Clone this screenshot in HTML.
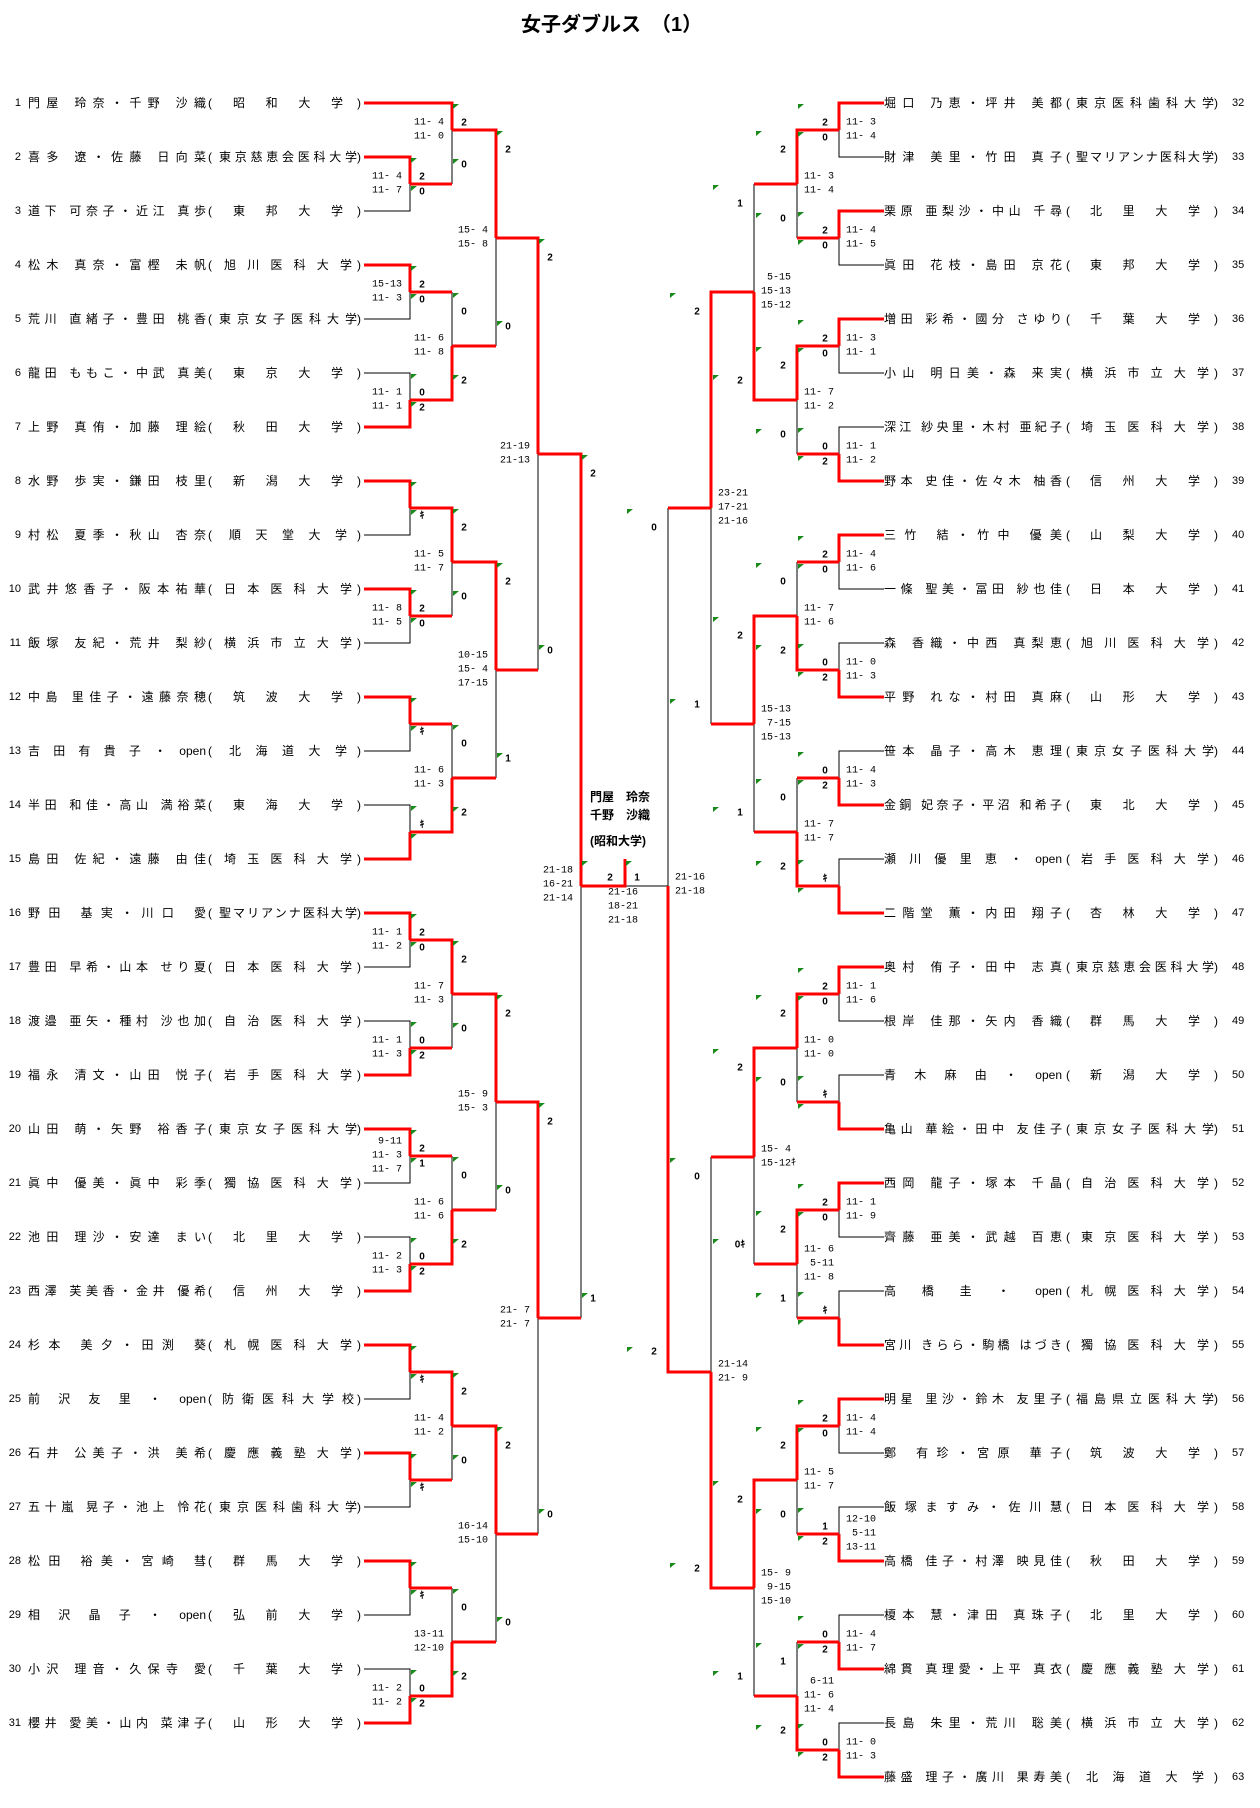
<!DOCTYPE html>
<html><head><meta charset="utf-8">
<style>
html,body{margin:0;padding:0;background:#fff}
body{width:1260px;height:1808px;position:relative;overflow:hidden;font-family:"Liberation Sans","Noto Sans CJK JP",sans-serif;color:#000}
.t{position:absolute;left:521px;top:8px;font-size:20px;font-weight:bold;white-space:nowrap;font-family:"Liberation Sans","Noto Sans CJK JP",sans-serif}
.r{position:absolute;left:0;width:1260px;height:16px;line-height:16px;font-size:12px;white-space:nowrap}
.r span{position:absolute;top:0}
.n{width:18px;text-align:right;font-size:11px}
.p,.u{text-align:justify;text-align-last:justify;box-sizing:border-box}
.p{width:178px}
.u{width:138px}
.l .n{left:3px}.l .p{left:28px}.l .o{left:208px}.l .u{left:219px}.l .c{left:357px}
.g .p{left:884px}.g .o{left:1066px}.g .u{left:1076px}.g .c{left:1214px}.g .n{left:1232px;text-align:left}
.a{padding:0 14px}.b{padding:0 10px}.d{padding:0 5px}.e{padding:0 3px}
.w{position:absolute;left:590px;font-size:12px;font-weight:bold;white-space:nowrap}
svg{position:absolute;left:0;top:0}
.s text{font-family:"Liberation Mono",monospace;font-size:10px;white-space:pre;dominant-baseline:central}
.k text{font-family:"Liberation Sans","Noto Sans CJK JP",sans-serif;font-size:10px;font-weight:bold;dominant-baseline:central;text-anchor:middle}
</style></head><body>
<div class="t">女子ダブルス　（1）</div>

<div class="r l" style="top:95px"><span class="n">1</span><span class="p">門屋 玲奈・千野 沙織</span><span class="o">(</span><span class="u a">昭和大学</span><span class="c">)</span></div>
<div class="r l" style="top:149px"><span class="n">2</span><span class="p">喜多 遼・佐藤 日向菜</span><span class="o">(</span><span class="u">東京慈恵会医科大学</span><span class="c">)</span></div>
<div class="r l" style="top:203px"><span class="n">3</span><span class="p">道下 可奈子・近江 真歩</span><span class="o">(</span><span class="u a">東邦大学</span><span class="c">)</span></div>
<div class="r l" style="top:257px"><span class="n">4</span><span class="p">松木 真奈・富樫 未帆</span><span class="o">(</span><span class="u d">旭川医科大学</span><span class="c">)</span></div>
<div class="r l" style="top:311px"><span class="n">5</span><span class="p">荒川 直緒子・豊田 桃香</span><span class="o">(</span><span class="u">東京女子医科大学</span><span class="c">)</span></div>
<div class="r l" style="top:365px"><span class="n">6</span><span class="p">龍田 ももこ・中武 真美</span><span class="o">(</span><span class="u a">東京大学</span><span class="c">)</span></div>
<div class="r l" style="top:419px"><span class="n">7</span><span class="p">上野 真侑・加藤 理絵</span><span class="o">(</span><span class="u a">秋田大学</span><span class="c">)</span></div>
<div class="r l" style="top:473px"><span class="n">8</span><span class="p">水野 歩実・鎌田 枝里</span><span class="o">(</span><span class="u a">新潟大学</span><span class="c">)</span></div>
<div class="r l" style="top:527px"><span class="n">9</span><span class="p">村松 夏季・秋山 杏奈</span><span class="o">(</span><span class="u b">順天堂大学</span><span class="c">)</span></div>
<div class="r l" style="top:581px"><span class="n">10</span><span class="p">武井悠香子・阪本祐華</span><span class="o">(</span><span class="u d">日本医科大学</span><span class="c">)</span></div>
<div class="r l" style="top:635px"><span class="n">11</span><span class="p">飯塚 友紀・荒井 梨紗</span><span class="o">(</span><span class="u d">横浜市立大学</span><span class="c">)</span></div>
<div class="r l" style="top:689px"><span class="n">12</span><span class="p">中島 里佳子・遠藤奈穂</span><span class="o">(</span><span class="u a">筑波大学</span><span class="c">)</span></div>
<div class="r l" style="top:743px"><span class="n">13</span><span class="p">吉 田 有 貴 子 ・ open</span><span class="o">(</span><span class="u b">北海道大学</span><span class="c">)</span></div>
<div class="r l" style="top:797px"><span class="n">14</span><span class="p">半田 和佳・高山 満裕菜</span><span class="o">(</span><span class="u a">東海大学</span><span class="c">)</span></div>
<div class="r l" style="top:851px"><span class="n">15</span><span class="p">島田 佐紀・遠藤 由佳</span><span class="o">(</span><span class="u d">埼玉医科大学</span><span class="c">)</span></div>
<div class="r l" style="top:905px"><span class="n">16</span><span class="p">野田 基実・川口 愛</span><span class="o">(</span><span class="u">聖マリアンナ医科大学</span><span class="c">)</span></div>
<div class="r l" style="top:959px"><span class="n">17</span><span class="p">豊田 早希・山本 せり夏</span><span class="o">(</span><span class="u d">日本医科大学</span><span class="c">)</span></div>
<div class="r l" style="top:1013px"><span class="n">18</span><span class="p">渡邉 亜矢・種村 沙也加</span><span class="o">(</span><span class="u d">自治医科大学</span><span class="c">)</span></div>
<div class="r l" style="top:1067px"><span class="n">19</span><span class="p">福永 清文・山田 悦子</span><span class="o">(</span><span class="u d">岩手医科大学</span><span class="c">)</span></div>
<div class="r l" style="top:1121px"><span class="n">20</span><span class="p">山田 萌・矢野 裕香子</span><span class="o">(</span><span class="u">東京女子医科大学</span><span class="c">)</span></div>
<div class="r l" style="top:1175px"><span class="n">21</span><span class="p">眞中 優美・眞中 彩季</span><span class="o">(</span><span class="u d">獨協医科大学</span><span class="c">)</span></div>
<div class="r l" style="top:1229px"><span class="n">22</span><span class="p">池田 理沙・安達 まい</span><span class="o">(</span><span class="u a">北里大学</span><span class="c">)</span></div>
<div class="r l" style="top:1283px"><span class="n">23</span><span class="p">西澤 芙美香・金井 優希</span><span class="o">(</span><span class="u a">信州大学</span><span class="c">)</span></div>
<div class="r l" style="top:1337px"><span class="n">24</span><span class="p">杉本 美夕・田渕 葵</span><span class="o">(</span><span class="u d">札幌医科大学</span><span class="c">)</span></div>
<div class="r l" style="top:1391px"><span class="n">25</span><span class="p">前 沢 友 里 ・ open</span><span class="o">(</span><span class="u e">防衛医科大学校</span><span class="c">)</span></div>
<div class="r l" style="top:1445px"><span class="n">26</span><span class="p">石井 公美子・洪 美希</span><span class="o">(</span><span class="u d">慶應義塾大学</span><span class="c">)</span></div>
<div class="r l" style="top:1499px"><span class="n">27</span><span class="p">五十嵐 晃子・池上 怜花</span><span class="o">(</span><span class="u">東京医科歯科大学</span><span class="c">)</span></div>
<div class="r l" style="top:1553px"><span class="n">28</span><span class="p">松田 裕美・宮崎 彗</span><span class="o">(</span><span class="u a">群馬大学</span><span class="c">)</span></div>
<div class="r l" style="top:1607px"><span class="n">29</span><span class="p">相 沢 晶 子 ・ open</span><span class="o">(</span><span class="u a">弘前大学</span><span class="c">)</span></div>
<div class="r l" style="top:1661px"><span class="n">30</span><span class="p">小沢 理音・久保寺 愛</span><span class="o">(</span><span class="u a">千葉大学</span><span class="c">)</span></div>
<div class="r l" style="top:1715px"><span class="n">31</span><span class="p">櫻井 愛美・山内 菜津子</span><span class="o">(</span><span class="u a">山形大学</span><span class="c">)</span></div>

<div class="r g" style="top:95px"><span class="p">堀口 乃恵・坪井 美都</span><span class="o">(</span><span class="u">東京医科歯科大学</span><span class="c">)</span><span class="n">32</span></div>
<div class="r g" style="top:149px"><span class="p">財津 美里・竹田 真子</span><span class="o">(</span><span class="u">聖マリアンナ医科大学</span><span class="c">)</span><span class="n">33</span></div>
<div class="r g" style="top:203px"><span class="p">栗原 亜梨沙・中山 千尋</span><span class="o">(</span><span class="u a">北里大学</span><span class="c">)</span><span class="n">34</span></div>
<div class="r g" style="top:257px"><span class="p">眞田 花枝・島田 京花</span><span class="o">(</span><span class="u a">東邦大学</span><span class="c">)</span><span class="n">35</span></div>
<div class="r g" style="top:311px"><span class="p">増田 彩希・國分 さゆり</span><span class="o">(</span><span class="u a">千葉大学</span><span class="c">)</span><span class="n">36</span></div>
<div class="r g" style="top:365px"><span class="p">小山 明日美・森 来実</span><span class="o">(</span><span class="u d">横浜市立大学</span><span class="c">)</span><span class="n">37</span></div>
<div class="r g" style="top:419px"><span class="p">深江 紗央里・木村 亜紀子</span><span class="o">(</span><span class="u d">埼玉医科大学</span><span class="c">)</span><span class="n">38</span></div>
<div class="r g" style="top:473px"><span class="p">野本 史佳・佐々木 柚香</span><span class="o">(</span><span class="u a">信州大学</span><span class="c">)</span><span class="n">39</span></div>
<div class="r g" style="top:527px"><span class="p">三竹 結・竹中 優美</span><span class="o">(</span><span class="u a">山梨大学</span><span class="c">)</span><span class="n">40</span></div>
<div class="r g" style="top:581px"><span class="p">一條 聖美・冨田 紗也佳</span><span class="o">(</span><span class="u a">日本大学</span><span class="c">)</span><span class="n">41</span></div>
<div class="r g" style="top:635px"><span class="p">森 香織・中西 真梨恵</span><span class="o">(</span><span class="u d">旭川医科大学</span><span class="c">)</span><span class="n">42</span></div>
<div class="r g" style="top:689px"><span class="p">平野 れな・村田 真麻</span><span class="o">(</span><span class="u a">山形大学</span><span class="c">)</span><span class="n">43</span></div>
<div class="r g" style="top:743px"><span class="p">笹本 晶子・高木 恵理</span><span class="o">(</span><span class="u">東京女子医科大学</span><span class="c">)</span><span class="n">44</span></div>
<div class="r g" style="top:797px"><span class="p">金銅 妃奈子・平沼 和希子</span><span class="o">(</span><span class="u a">東北大学</span><span class="c">)</span><span class="n">45</span></div>
<div class="r g" style="top:851px"><span class="p">瀬 川 優 里 恵 ・ open</span><span class="o">(</span><span class="u d">岩手医科大学</span><span class="c">)</span><span class="n">46</span></div>
<div class="r g" style="top:905px"><span class="p">二階堂 薫・内田 翔子</span><span class="o">(</span><span class="u a">杏林大学</span><span class="c">)</span><span class="n">47</span></div>
<div class="r g" style="top:959px"><span class="p">奥村 侑子・田中 志真</span><span class="o">(</span><span class="u">東京慈恵会医科大学</span><span class="c">)</span><span class="n">48</span></div>
<div class="r g" style="top:1013px"><span class="p">根岸 佳那・矢内 香織</span><span class="o">(</span><span class="u a">群馬大学</span><span class="c">)</span><span class="n">49</span></div>
<div class="r g" style="top:1067px"><span class="p">青 木 麻 由 ・ open</span><span class="o">(</span><span class="u a">新潟大学</span><span class="c">)</span><span class="n">50</span></div>
<div class="r g" style="top:1121px"><span class="p">亀山 華絵・田中 友佳子</span><span class="o">(</span><span class="u">東京女子医科大学</span><span class="c">)</span><span class="n">51</span></div>
<div class="r g" style="top:1175px"><span class="p">西岡 龍子・塚本 千晶</span><span class="o">(</span><span class="u d">自治医科大学</span><span class="c">)</span><span class="n">52</span></div>
<div class="r g" style="top:1229px"><span class="p">齊藤 亜美・武越 百恵</span><span class="o">(</span><span class="u d">東京医科大学</span><span class="c">)</span><span class="n">53</span></div>
<div class="r g" style="top:1283px"><span class="p">高 橋 圭 ・ open</span><span class="o">(</span><span class="u d">札幌医科大学</span><span class="c">)</span><span class="n">54</span></div>
<div class="r g" style="top:1337px"><span class="p">宮川 きらら・駒橋 はづき</span><span class="o">(</span><span class="u d">獨協医科大学</span><span class="c">)</span><span class="n">55</span></div>
<div class="r g" style="top:1391px"><span class="p">明星 里沙・鈴木 友里子</span><span class="o">(</span><span class="u">福島県立医科大学</span><span class="c">)</span><span class="n">56</span></div>
<div class="r g" style="top:1445px"><span class="p">鄭 有珍・宮原 華子</span><span class="o">(</span><span class="u a">筑波大学</span><span class="c">)</span><span class="n">57</span></div>
<div class="r g" style="top:1499px"><span class="p">飯塚ますみ・佐川慧</span><span class="o">(</span><span class="u d">日本医科大学</span><span class="c">)</span><span class="n">58</span></div>
<div class="r g" style="top:1553px"><span class="p">高橋 佳子・村澤 映見佳</span><span class="o">(</span><span class="u a">秋田大学</span><span class="c">)</span><span class="n">59</span></div>
<div class="r g" style="top:1607px"><span class="p">榎本 慧・津田 真珠子</span><span class="o">(</span><span class="u a">北里大学</span><span class="c">)</span><span class="n">60</span></div>
<div class="r g" style="top:1661px"><span class="p">綿貫 真理愛・上平 真衣</span><span class="o">(</span><span class="u d">慶應義塾大学</span><span class="c">)</span><span class="n">61</span></div>
<div class="r g" style="top:1715px"><span class="p">長島 朱里・荒川 聡美</span><span class="o">(</span><span class="u d">横浜市立大学</span><span class="c">)</span><span class="n">62</span></div>
<div class="r g" style="top:1769px"><span class="p">藤盛 理子・廣川 果寿美</span><span class="o">(</span><span class="u b">北海道大学</span><span class="c">)</span><span class="n">63</span></div>

<div class="w" style="top:788px">門屋　玲奈</div>
<div class="w" style="top:806px">千野　沙織</div>
<div class="w" style="top:832px">(昭和大学)</div>

<svg width="1260" height="1808" viewBox="0 0 1260 1808">
<path fill="none" stroke="#000" stroke-width="1" shape-rendering="crispEdges" d="
M364 211H410V184 M452 130V184 M364 319H410V292 M364 373H410V400 M452 292V346 M496 238V346
M364 535H410V508 M364 643H410V616 M452 562V616 M364 751H410V724 M364 805H410V832 M452 724V778 M496 670V778 M538 454V670
M364 967H410V940 M364 1021H410V1048 M452 994V1048 M364 1183H410V1156 M364 1237H410V1264 M452 1156V1210 M496 1102V1210
M364 1399H410V1372 M364 1507H410V1480 M452 1426V1480 M364 1615H410V1588 M364 1669H410V1696 M452 1588V1642 M496 1534V1642 M538 1318V1534 M581 886V1318
M625 886H668
M884 157H839V130 M884 265H839V238 M797 184V238 M884 373H839V346 M884 427H839V454 M797 400V454 M754 184V292
M884 589H839V562 M884 643H839V670 M797 562V616 M884 751H839V778 M884 859H839V886 M797 778V832 M754 724V832 M711 508V724
M884 1021H839V994 M884 1075H839V1102 M797 1048V1102 M884 1237H839V1210 M884 1291H839V1318 M797 1264V1318 M754 1157V1264
M884 1453H839V1426 M884 1507H839V1534 M797 1480V1534 M884 1615H839V1642 M884 1723H839V1750 M797 1642V1696 M754 1588V1696 M711 1157V1372 M668 508V886"/>
<path fill="none" stroke="#ff0000" stroke-width="3" stroke-linejoin="miter" d="
M364 157H410V184 M364 103H452V130 M410 184H452 M364 265H410V292 M364 427H410V400 M410 292H452 M410 400H452V346 M452 130H496V238 M452 346H496
M364 481H410V508 M364 589H410V616 M410 508H452V562 M410 616H452 M364 697H410V724 M364 859H410V832 M410 724H452 M410 832H452V778 M452 562H496V670 M452 778H496
M496 238H538V454 M496 670H538
M364 913H410V940 M364 1075H410V1048 M410 940H452V994 M410 1048H452 M364 1129H410V1156 M364 1291H410V1264 M410 1156H452 M410 1264H452V1210 M452 994H496V1102 M452 1210H496
M364 1345H410V1372 M364 1453H410V1480 M410 1372H452V1426 M410 1480H452 M364 1561H410V1588 M364 1723H410V1696 M410 1588H452 M410 1696H452V1642 M452 1426H496V1534 M452 1642H496
M496 1102H538V1318 M496 1534H538 M538 454H581V886 M538 1318H581 M581 886H625V859
M884 103H839V130 M884 211H839V238 M839 130H797V184 M839 238H797 M884 319H839V346 M884 481H839V454 M839 346H797V400 M839 454H797 M797 184H754 M797 400H754V292
M884 535H839V562 M884 697H839V670 M839 562H797 M839 670H797V616 M884 805H839V778 M884 913H839V886 M839 778H797 M839 886H797V832 M797 616H754V724 M797 832H754
M754 292H711V508 M754 724H711
M884 967H839V994 M884 1129H839V1102 M839 994H797V1048 M839 1102H797 M884 1183H839V1210 M884 1345H839V1318 M839 1210H797V1264 M839 1318H797 M797 1048H754V1157 M797 1264H754
M884 1399H839V1426 M884 1561H839V1534 M839 1426H797V1480 M839 1534H797 M884 1669H839V1642 M884 1777H839V1750 M839 1642H797 M839 1750H797V1696 M797 1480H754V1588 M797 1696H754
M754 1157H711 M754 1588H711V1372 M711 508H668 M711 1372H668V886"/>
<path fill="#1a8a1a" d="
M411 158h6l-6 5z M411 186h6l-6 5z M453 104h6l-6 5z M453 159h6l-6 5z M411 266h6l-6 5z M411 294h6l-6 5z M411 374h6l-6 5z M411 402h6l-6 5z M453 293h6l-6 5z M453 375h6l-6 5z M497 131h6l-6 5z M497 321h6l-6 5z
M411 482h6l-6 5z M411 510h6l-6 5z M411 590h6l-6 5z M411 618h6l-6 5z M453 509h6l-6 5z M453 591h6l-6 5z M411 698h6l-6 5z M411 726h6l-6 5z M411 806h6l-6 5z M411 834h6l-6 5z M453 725h6l-6 5z M453 807h6l-6 5z M497 563h6l-6 5z M497 753h6l-6 5z M539 239h6l-6 5z M539 645h6l-6 5z
M411 914h6l-6 5z M411 942h6l-6 5z M411 1022h6l-6 5z M411 1050h6l-6 5z M453 941h6l-6 5z M453 1023h6l-6 5z M411 1130h6l-6 5z M411 1158h6l-6 5z M411 1238h6l-6 5z M411 1266h6l-6 5z M453 1157h6l-6 5z M453 1239h6l-6 5z M497 995h6l-6 5z M497 1185h6l-6 5z
M411 1346h6l-6 5z M411 1374h6l-6 5z M411 1454h6l-6 5z M411 1482h6l-6 5z M453 1373h6l-6 5z M453 1455h6l-6 5z M411 1562h6l-6 5z M411 1590h6l-6 5z M411 1670h6l-6 5z M411 1698h6l-6 5z M453 1589h6l-6 5z M453 1671h6l-6 5z M497 1427h6l-6 5z M497 1617h6l-6 5z M539 1103h6l-6 5z M539 1509h6l-6 5z M582 455h6l-6 5z M582 1293h6l-6 5z M582 861h6l-6 5z M626 861h6l-6 5z
M798 104h6l-6 5z M798 132h6l-6 5z M798 212h6l-6 5z M798 240h6l-6 5z M756 131h6l-6 5z M756 213h6l-6 5z M798 320h6l-6 5z M798 348h6l-6 5z M798 428h6l-6 5z M798 456h6l-6 5z M756 347h6l-6 5z M756 429h6l-6 5z M713 185h6l-6 5z M713 375h6l-6 5z
M798 536h6l-6 5z M798 564h6l-6 5z M798 644h6l-6 5z M798 672h6l-6 5z M756 563h6l-6 5z M756 645h6l-6 5z M798 752h6l-6 5z M798 780h6l-6 5z M798 860h6l-6 5z M798 888h6l-6 5z M756 779h6l-6 5z M756 861h6l-6 5z M713 617h6l-6 5z M713 807h6l-6 5z M670 293h6l-6 5z M670 699h6l-6 5z
M798 968h6l-6 5z M798 996h6l-6 5z M798 1076h6l-6 5z M798 1104h6l-6 5z M756 995h6l-6 5z M756 1077h6l-6 5z M798 1184h6l-6 5z M798 1212h6l-6 5z M798 1292h6l-6 5z M798 1320h6l-6 5z M756 1211h6l-6 5z M756 1293h6l-6 5z M713 1049h6l-6 5z M713 1239h6l-6 5z
M798 1400h6l-6 5z M798 1428h6l-6 5z M798 1508h6l-6 5z M798 1536h6l-6 5z M756 1427h6l-6 5z M756 1509h6l-6 5z M798 1616h6l-6 5z M798 1644h6l-6 5z M798 1724h6l-6 5z M798 1752h6l-6 5z M756 1643h6l-6 5z M756 1725h6l-6 5z M713 1481h6l-6 5z M713 1671h6l-6 5z M670 1158h6l-6 5z M670 1563h6l-6 5z M627 509h6l-6 5z M627 1347h6l-6 5z"/>
<g class="k">
<text x="422" y="177">2</text><text x="422" y="192">0</text>
<text x="464" y="123">2</text><text x="464" y="165">0</text>
<text x="422" y="285">2</text><text x="422" y="300">0</text>
<text x="422" y="393">0</text><text x="422" y="408">2</text>
<text x="464" y="312">0</text><text x="464" y="381">2</text>
<text x="508" y="150">2</text><text x="508" y="327">0</text>
<text x="422" y="516">ｷ</text>
<text x="422" y="609">2</text><text x="422" y="624">0</text>
<text x="464" y="528">2</text><text x="464" y="597">0</text>
<text x="422" y="732">ｷ</text>
<text x="422" y="825">ｷ</text>
<text x="464" y="744">0</text><text x="464" y="813">2</text>
<text x="508" y="582">2</text><text x="508" y="759">1</text>
<text x="550" y="258">2</text><text x="550" y="651">0</text>
<text x="422" y="933">2</text><text x="422" y="948">0</text>
<text x="422" y="1041">0</text><text x="422" y="1056">2</text>
<text x="464" y="960">2</text><text x="464" y="1029">0</text>
<text x="422" y="1149">2</text><text x="422" y="1164">1</text>
<text x="422" y="1257">0</text><text x="422" y="1272">2</text>
<text x="464" y="1176">0</text><text x="464" y="1245">2</text>
<text x="508" y="1014">2</text><text x="508" y="1191">0</text>
<text x="422" y="1380">ｷ</text>
<text x="422" y="1488">ｷ</text>
<text x="464" y="1392">2</text><text x="464" y="1461">0</text>
<text x="422" y="1596">ｷ</text>
<text x="422" y="1689">0</text><text x="422" y="1704">2</text>
<text x="464" y="1608">0</text><text x="464" y="1677">2</text>
<text x="508" y="1446">2</text><text x="508" y="1623">0</text>
<text x="550" y="1122">2</text><text x="550" y="1515">0</text>
<text x="593" y="474">2</text><text x="593" y="1299">1</text>
<text x="610" y="878">2</text><text x="637" y="878">1</text>
<text x="825" y="123">2</text><text x="825" y="138">0</text>
<text x="825" y="231">2</text><text x="825" y="246">0</text>
<text x="783" y="150">2</text><text x="783" y="219">0</text>
<text x="825" y="339">2</text><text x="825" y="354">0</text>
<text x="825" y="447">0</text><text x="825" y="462">2</text>
<text x="783" y="366">2</text><text x="783" y="435">0</text>
<text x="740" y="204">1</text><text x="740" y="381">2</text>
<text x="825" y="555">2</text><text x="825" y="570">0</text>
<text x="825" y="663">0</text><text x="825" y="678">2</text>
<text x="783" y="582">0</text><text x="783" y="651">2</text>
<text x="825" y="771">0</text><text x="825" y="786">2</text>
<text x="825" y="879">ｷ</text>
<text x="783" y="798">0</text><text x="783" y="867">2</text>
<text x="740" y="636">2</text><text x="740" y="813">1</text>
<text x="697" y="312">2</text><text x="697" y="705">1</text>
<text x="825" y="987">2</text><text x="825" y="1002">0</text>
<text x="825" y="1095">ｷ</text>
<text x="783" y="1014">2</text><text x="783" y="1083">0</text>
<text x="825" y="1203">2</text><text x="825" y="1218">0</text>
<text x="825" y="1311">ｷ</text>
<text x="783" y="1230">2</text><text x="783" y="1299">1</text>
<text x="740" y="1068">2</text><text x="740" y="1245">0ｷ</text>
<text x="825" y="1419">2</text><text x="825" y="1434">0</text>
<text x="825" y="1527">1</text><text x="825" y="1542">2</text>
<text x="783" y="1446">2</text><text x="783" y="1515">0</text>
<text x="825" y="1635">0</text><text x="825" y="1650">2</text>
<text x="825" y="1743">0</text><text x="825" y="1758">2</text>
<text x="783" y="1662">1</text><text x="783" y="1731">2</text>
<text x="740" y="1500">2</text><text x="740" y="1677">1</text>
<text x="697" y="1177">0</text><text x="697" y="1569">2</text>
<text x="654" y="528">0</text><text x="654" y="1352">2</text>
</g>
<g class="s" text-anchor="end">
<text x="402" y="177">11- 4</text><text x="402" y="191">11- 7</text>
<text x="444" y="123">11- 4</text><text x="444" y="137">11- 0</text>
<text x="402" y="285">15-13</text><text x="402" y="299">11- 3</text>
<text x="402" y="393">11- 1</text><text x="402" y="407">11- 1</text>
<text x="444" y="339">11- 6</text><text x="444" y="353">11- 8</text>
<text x="488" y="231">15- 4</text><text x="488" y="245">15- 8</text>
<text x="402" y="609">11- 8</text><text x="402" y="623">11- 5</text>
<text x="444" y="555">11- 5</text><text x="444" y="569">11- 7</text>
<text x="444" y="771">11- 6</text><text x="444" y="785">11- 3</text>
<text x="488" y="656">10-15</text><text x="488" y="670">15- 4</text><text x="488" y="684">17-15</text>
<text x="530" y="447">21-19</text><text x="530" y="461">21-13</text>
<text x="402" y="933">11- 1</text><text x="402" y="947">11- 2</text>
<text x="402" y="1041">11- 1</text><text x="402" y="1055">11- 3</text>
<text x="444" y="987">11- 7</text><text x="444" y="1001">11- 3</text>
<text x="402" y="1142"> 9-11</text><text x="402" y="1156">11- 3</text><text x="402" y="1170">11- 7</text>
<text x="402" y="1257">11- 2</text><text x="402" y="1271">11- 3</text>
<text x="444" y="1203">11- 6</text><text x="444" y="1217">11- 6</text>
<text x="488" y="1095">15- 9</text><text x="488" y="1109">15- 3</text>
<text x="444" y="1419">11- 4</text><text x="444" y="1433">11- 2</text>
<text x="402" y="1689">11- 2</text><text x="402" y="1703">11- 2</text>
<text x="444" y="1635">13-11</text><text x="444" y="1649">12-10</text>
<text x="488" y="1527">16-14</text><text x="488" y="1541">15-10</text>
<text x="530" y="1311">21- 7</text><text x="530" y="1325">21- 7</text>
<text x="573" y="871">21-18</text><text x="573" y="885">16-21</text><text x="573" y="899">21-14</text>
</g>
<g class="s" text-anchor="middle">
<text x="623" y="893">21-16</text><text x="623" y="907">18-21</text><text x="623" y="921">21-18</text>
</g>
<g class="s" text-anchor="start">
<text x="846" y="123">11- 3</text><text x="846" y="137">11- 4</text>
<text x="846" y="231">11- 4</text><text x="846" y="245">11- 5</text>
<text x="804" y="177">11- 3</text><text x="804" y="191">11- 4</text>
<text x="846" y="339">11- 3</text><text x="846" y="353">11- 1</text>
<text x="846" y="447">11- 1</text><text x="846" y="461">11- 2</text>
<text x="804" y="393">11- 7</text><text x="804" y="407">11- 2</text>
<text x="761" y="278"> 5-15</text><text x="761" y="292">15-13</text><text x="761" y="306">15-12</text>
<text x="846" y="555">11- 4</text><text x="846" y="569">11- 6</text>
<text x="846" y="663">11- 0</text><text x="846" y="677">11- 3</text>
<text x="804" y="609">11- 7</text><text x="804" y="623">11- 6</text>
<text x="846" y="771">11- 4</text><text x="846" y="785">11- 3</text>
<text x="804" y="825">11- 7</text><text x="804" y="839">11- 7</text>
<text x="761" y="710">15-13</text><text x="761" y="724"> 7-15</text><text x="761" y="738">15-13</text>
<text x="718" y="494">23-21</text><text x="718" y="508">17-21</text><text x="718" y="522">21-16</text>
<text x="846" y="987">11- 1</text><text x="846" y="1001">11- 6</text>
<text x="804" y="1041">11- 0</text><text x="804" y="1055">11- 0</text>
<text x="846" y="1203">11- 1</text><text x="846" y="1217">11- 9</text>
<text x="804" y="1250">11- 6</text><text x="804" y="1264"> 5-11</text><text x="804" y="1278">11- 8</text>
<text x="761" y="1150">15- 4</text><text x="761" y="1164">15-12ｷ</text>
<text x="846" y="1419">11- 4</text><text x="846" y="1433">11- 4</text>
<text x="846" y="1520">12-10</text><text x="846" y="1534"> 5-11</text><text x="846" y="1548">13-11</text>
<text x="804" y="1473">11- 5</text><text x="804" y="1487">11- 7</text>
<text x="846" y="1635">11- 4</text><text x="846" y="1649">11- 7</text>
<text x="846" y="1743">11- 0</text><text x="846" y="1757">11- 3</text>
<text x="804" y="1682"> 6-11</text><text x="804" y="1696">11- 6</text><text x="804" y="1710">11- 4</text>
<text x="761" y="1574">15- 9</text><text x="761" y="1588"> 9-15</text><text x="761" y="1602">15-10</text>
<text x="718" y="1365">21-14</text><text x="718" y="1379">21- 9</text>
<text x="675" y="878">21-16</text><text x="675" y="892">21-18</text>
</g>
</svg>
</body></html>
